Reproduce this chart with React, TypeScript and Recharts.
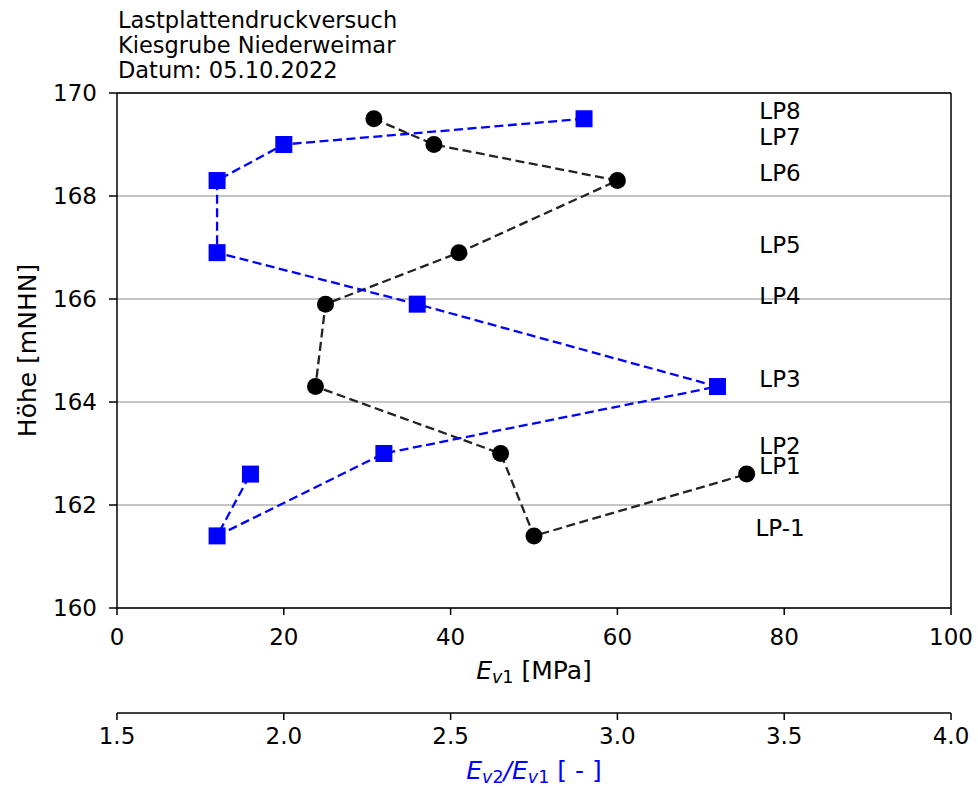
import React from 'react';
import { ScatterChart, Scatter, XAxis, YAxis, CartesianGrid, ReferenceLine } from 'recharts';

// ---- data ----
const layers = ['LP8', 'LP7', 'LP6', 'LP5', 'LP4', 'LP3', 'LP2', 'LP-1', 'LP1'];
const heights = [169.5, 169.0, 168.3, 166.9, 165.9, 164.3, 163.0, 161.4, 162.6];
const ev1 = [30.8, 38.0, 60.0, 41.0, 25.0, 23.8, 46.0, 50.0, 75.5];
const ratio = [2.9, 2.0, 1.8, 1.8, 2.4, 3.3, 2.3, 1.8, 1.9];
const ev1Ticks = [0, 20, 40, 60, 80, 100];
const ratioTicks = [1.5, 2.0, 2.5, 3.0, 3.5, 4.0];
const heightTicks = [160, 162, 164, 166, 168, 170];
const titleLines = ['Lastplattendruckversuch', 'Kiesgrube Niederweimar', 'Datum: 05.10.2022'];

// label placement (not data)
const LABEL_X = 79.5;

const FONT = '"DejaVu Sans", sans-serif';
const TICK_FS = 23;
const AXLABEL_FS = 25;
const SUB_FS = 17.5;

const ev1Data = heights.map((h, i) => ({ x: ev1[i], y: h }));
const ratioData = heights.map((h, i) => ({ x: ratio[i], y: h }));
const labelData = heights.map((h, i) => ({ x: LABEL_X, y: h, name: layers[i] }));

const Circle = (p: any) => <circle cx={p.cx} cy={p.cy} r={8.5} fill="#000" />;
const Square = (p: any) => <rect x={p.cx - 8.5} y={p.cy - 8.5} width={17} height={17} fill="#0000ff" />;
const LayerText = (p: any) => (
  <text x={p.cx} y={p.cy - 8} textAnchor="middle" dominantBaseline="central" fontSize={23} fill="#000" fontFamily={FONT}>
    {p.payload?.name}
  </text>
);

const Ev1Label = (p: any) => {
  const vb = p.viewBox || {};
  const cx = vb.x + vb.width / 2;
  const y = vb.y + 71;
  return (
    <text x={cx} y={y} textAnchor="middle" fontSize={AXLABEL_FS} fill="#000" fontFamily={FONT}>
      <tspan fontStyle="italic">E</tspan>
      <tspan fontStyle="italic" fontSize={SUB_FS} dy={4}>v</tspan>
      <tspan fontSize={SUB_FS}>1</tspan>
      <tspan dy={-4}> [MPa]</tspan>
    </text>
  );
};

const RatioLabel = (p: any) => {
  const vb = p.viewBox || {};
  const cx = vb.x + vb.width / 2;
  const y = vb.y + 66;
  return (
    <text x={cx} y={y} textAnchor="middle" fontSize={AXLABEL_FS} fill="#0000ff" fontFamily={FONT}>
      <tspan fontStyle="italic">E</tspan>
      <tspan fontStyle="italic" fontSize={SUB_FS} dy={4}>v</tspan>
      <tspan fontSize={SUB_FS}>2</tspan>
      <tspan fontStyle="italic" dy={-4}>/E</tspan>
      <tspan fontStyle="italic" fontSize={SUB_FS} dy={4}>v</tspan>
      <tspan fontSize={SUB_FS}>1</tspan>
      <tspan dy={-4}> [ - ]</tspan>
    </text>
  );
};

const HLabel = (p: any) => {
  const vb = p.viewBox || {};
  const x = 27;
  const y = vb.y + vb.height / 2;
  return (
    <text x={x} y={y} textAnchor="middle" dominantBaseline="central" fontSize={AXLABEL_FS} fill="#000" fontFamily={FONT} transform={`rotate(-90 ${x} ${y})`}>
      Höhe [mNHN]
    </text>
  );
};

export default function App() {
  return (
    <div style={{ position: 'absolute', left: 0, top: 0, width: 978, height: 787, background: '#fff', fontFamily: FONT }}>
      <div style={{ position: 'absolute', left: 118, top: 8, fontSize: 22.5, lineHeight: '25px', color: '#000', fontFamily: FONT, whiteSpace: 'pre' }}>
        {titleLines.map((t) => (
          <div key={t}>{t}</div>
        ))}
      </div>
      <ScatterChart width={978} height={787} margin={{ top: 93, right: 27, bottom: 0, left: 0 }} style={{ fontFamily: FONT }}>
        <CartesianGrid horizontal vertical={false} stroke="#b0b0b0" strokeWidth={1.3} yAxisId="h" xAxisId="ev1" />
        <XAxis
          xAxisId="ev1"
          dataKey="x"
          type="number"
          domain={[0, 100]}
          ticks={ev1Ticks}
          orientation="bottom"
          height={105}
          tickSize={7}
          tickMargin={14}
          axisLine={{ stroke: '#000', strokeWidth: 1.5 }}
          tickLine={{ stroke: '#000', strokeWidth: 1.5 }}
          tick={{ fill: '#000', fontSize: TICK_FS, fontFamily: FONT }}
          label={Ev1Label}
        />
        <XAxis
          xAxisId="ratio"
          dataKey="x"
          type="number"
          domain={[1.5, 4]}
          ticks={ratioTicks}
          orientation="bottom"
          height={74}
          tickSize={7}
          tickMargin={8}
          tickFormatter={(v: number) => v.toFixed(1)}
          axisLine={{ stroke: '#000', strokeWidth: 1.5 }}
          tickLine={{ stroke: '#000', strokeWidth: 1.5 }}
          tick={{ fill: '#000', fontSize: TICK_FS, fontFamily: FONT }}
          label={RatioLabel}
        />
        <YAxis
          yAxisId="h"
          dataKey="y"
          type="number"
          domain={[160, 170]}
          ticks={heightTicks}
          width={117}
          tickSize={8}
          tickMargin={12}
          axisLine={{ stroke: '#000', strokeWidth: 1.5 }}
          tickLine={{ stroke: '#000', strokeWidth: 1.5 }}
          tick={{ fill: '#000', fontSize: TICK_FS, fontFamily: FONT }}
          label={HLabel}
        />
        <ReferenceLine xAxisId="ev1" yAxisId="h" y={170} stroke="#000" strokeWidth={1.5} />
        <ReferenceLine xAxisId="ev1" yAxisId="h" x={100} stroke="#000" strokeWidth={1.5} />
        <Scatter
          data={ev1Data}
          xAxisId="ev1"
          yAxisId="h"
          line={{ stroke: '#222', strokeWidth: 2.3, strokeDasharray: '9 4.5' }}
          lineType="joint"
          shape={Circle}
          isAnimationActive={false}
        />
        <Scatter
          data={ratioData}
          xAxisId="ratio"
          yAxisId="h"
          line={{ stroke: '#0000ff', strokeWidth: 2.3, strokeDasharray: '9 4.5' }}
          lineType="joint"
          shape={Square}
          isAnimationActive={false}
        />
        <Scatter data={labelData} xAxisId="ev1" yAxisId="h" shape={LayerText} isAnimationActive={false} />
      </ScatterChart>
    </div>
  );
}
